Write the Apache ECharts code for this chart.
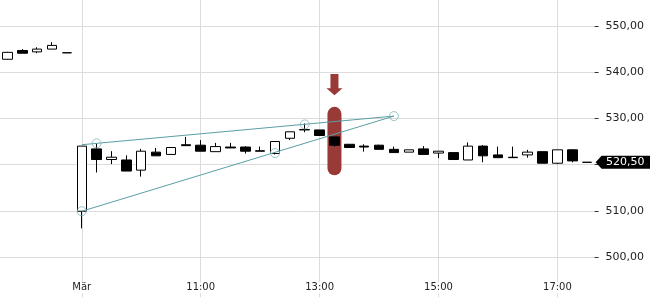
<!DOCTYPE html>
<html>
<head>
<meta charset="utf-8">
<script src="https://cdn.jsdelivr.net/npm/echarts@6/dist/echarts.min.js"></script>
<style>
html,body{margin:0;padding:0;background:#fff;}
#chart{width:650px;height:300px;}
</style>
</head>
<body>
<div id="chart"></div>
<script>
// categories (15-minute slots): previous day tail + trading day
const categories = [
  '28.2. 16:30','28.2. 16:45','28.2. 17:00','28.2. 17:15','28.2. 17:30',
  '09:00','09:15','09:30','09:45','10:00','10:15','10:30','10:45',
  '11:00','11:15','11:30','11:45','12:00','12:15','12:30','12:45',
  '13:00','13:15','13:30','13:45','14:00','14:15','14:30','14:45',
  '15:00','15:15','15:30','15:45','16:00','16:15','16:30','16:45',
  '17:00','17:15','17:30'
];
// OHLC as [open, close, low, high]
const opens  = [542.8,544.7,544.4,545.0,544.2,
  509.9,523.4,521.1,521.0,518.8,522.7,522.2,524.3,
  524.2,522.8,523.8,523.8,523.0,522.4,525.7,527.5,
  527.5,526.0,524.4,524.0,524.2,523.3,522.7,523.4,
  522.5,522.6,521.0,524.0,522.1,521.6,522.1,522.8,
  520.3,523.2,520.5];
const closes = [544.3,544.1,545.0,545.8,544.2,
  524.0,521.1,521.6,518.6,522.9,521.9,523.7,524.1,
  522.9,523.9,523.6,522.9,522.9,525.0,527.1,527.6,
  526.3,524.2,523.7,523.8,523.3,522.6,523.2,522.2,
  522.9,521.1,524.0,521.9,521.5,521.5,522.7,520.3,
  523.2,520.8,520.5];
const lows   = [542.7,544.1,544.1,545.0,544.2,
  506.2,518.3,520.1,518.6,517.4,521.9,522.2,524.1,
  522.9,522.8,523.6,522.4,522.9,522.2,525.3,527.0,
  526.3,523.9,523.7,522.8,523.3,522.6,522.7,522.2,
  521.4,521.1,521.0,520.5,521.5,521.5,521.5,520.3,
  520.1,520.5,520.5];
const highs  = [544.4,545.0,545.4,546.5,544.2,
  524.0,524.6,522.9,522.0,523.4,523.6,523.7,526.0,
  525.3,524.7,524.7,524.0,523.9,525.0,527.1,528.9,
  527.5,526.0,524.4,524.4,524.3,523.9,523.2,524.0,
  522.9,522.6,524.8,524.2,523.9,523.9,523.2,522.8,
  523.2,523.3,520.5];

// x tick labels
const tickCats  = ['09:00','11:00','13:00','15:00','17:00'];
const tickTexts = ['Mär','11:00','13:00','15:00','17:00'];
// y axis
const yMin = 490, yMax = 560, yStep = 10;

// trend lines
const upperLine = [['09:00',524.3],['14:15',530.5]];
const lowerLine = [['09:00',509.9],['14:15',530.5]];
// touch points (circles)
const touchPoints = [['09:00',509.9],['09:15',524.6],['12:15',522.5],['12:45',528.7],['14:15',530.5]];
// signal marker: [category, barTop, barBottom, arrowTop, arrowTip]
const signal = [['13:15',532.5,517.7,539.6,535.0]];

const lastPrice = closes[closes.length-1];
const lastCat = categories[categories.length-1];

const teal = '#5b9fa6';
const signalColor = '#983b38';
const FONT = 'DejaVu Sans';
const gridLineBottom = 491.3;

const chart = echarts.init(document.getElementById('chart'), null, {renderer:'canvas'});
const ohlc = opens.map((o,i)=>[o, closes[i], lows[i], highs[i]]);

chart.setOption({
  animation: false,
  backgroundColor: '#fff',
  grid: {left: 0, right: 55.4, top: -20.2, bottom: -3.2, containLabel: false, outerBoundsMode: 'none'},
  xAxis: {
    type: 'category',
    data: categories,
    boundaryGap: true,
    z: 10,
    axisLine: {show: false},
    axisTick: {show: false},
    splitLine: {show: false},
    axisLabel: {
      inside: true,
      margin: 10,
      interval: (idx, val) => tickCats.indexOf(val) >= 0,
      formatter: (val) => { const k = tickCats.indexOf(val); return k >= 0 ? tickTexts[k] : ''; },
      color: '#222',
      fontFamily: FONT,
      fontSize: 10,
      lineHeight: 11,
      backgroundColor: '#fff',
      padding: [0, 1, 0, 1]
    }
  },
  yAxis: {
    type: 'value',
    position: 'right',
    min: yMin, max: yMax, interval: yStep,
    axisLine: {show: false},
    axisTick: {show: true, length: 4, lineStyle: {color: '#333'}},
    splitLine: {show: true, lineStyle: {color: '#dcdcdc', width: 1}},
    axisLabel: {
      margin: 11,
      color: '#222',
      fontFamily: FONT,
      fontSize: 11,
      showMinLabel: false,
      showMaxLabel: false,
      formatter: (v) => v.toFixed(2).replace('.', ',')
    }
  },
  series: [
    {
      type: 'custom',
      name: 'signal',
      z: 1,
      clip: false,
      data: signal,
      renderItem: (params, api) => {
        const x = api.value(0);
        const pTop = api.coord([x, api.value(1)]);
        const pBot = api.coord([x, api.value(2)]);
        const aTop = api.coord([x, api.value(3)]);
        const aTip = api.coord([x, api.value(4)]);
        const w = 14, cx = pTop[0];
        const headH = 7, shaftW = 8, headW = 16;
        return {
          type: 'group',
          children: [
            {type: 'rect', shape: {x: cx - w/2, y: pTop[1], width: w, height: pBot[1]-pTop[1], r: w/2},
             style: {fill: signalColor}},
            {type: 'polygon', shape: {points: [
              [cx - shaftW/2, aTop[1]], [cx + shaftW/2, aTop[1]],
              [cx + shaftW/2, aTip[1]-headH], [cx + headW/2, aTip[1]-headH],
              [cx, aTip[1]], [cx - headW/2, aTip[1]-headH],
              [cx - shaftW/2, aTip[1]-headH]
            ]}, style: {fill: signalColor}}
          ]
        };
      }
    },
    {
      type: 'candlestick',
      name: 'Kurs',
      z: 2,
      barWidth: 10,
      data: ohlc,
      itemStyle: {color: '#ffffff', color0: '#000000', borderColor: '#000000', borderColor0: '#000000', borderWidth: 1},
      markLine: {
        silent: true,
        symbol: ['none','none'],
        label: {show: false},
        lineStyle: {color: '#dcdcdc', type: 'solid', width: 1},
        data: tickCats.map(c => [{coord: [c, yMax]}, {coord: [c, gridLineBottom]}]),
        z: 0
      }
    },
    {
      type: 'line', name: 'upper', z: 3, data: upperLine, symbol: 'none',
      lineStyle: {color: teal, width: 1}
    },
    {
      type: 'line', name: 'lower', z: 3, data: lowerLine, symbol: 'none',
      lineStyle: {color: teal, width: 1}
    },
    {
      type: 'scatter', name: 'touch', z: 4, data: touchPoints, symbol: 'circle', symbolSize: 9,
      itemStyle: {color: 'rgba(0,0,0,0)', borderColor: '#7fb7bd', borderWidth: 1}
    },
    {
      type: 'custom',
      name: 'lastPrice',
      z: 20,
      clip: false,
      data: [[lastCat, lastPrice]],
      renderItem: (params, api) => {
        const p = api.coord([api.value(0), api.value(1)]);
        const x0 = params.coordSys.x + params.coordSys.width;
        const y = p[1];
        const h = 6.5;
        return {
          type: 'group',
          children: [
            {type: 'polygon', shape: {points: [[x0+1, y], [x0+7, y-h], [650, y-h], [650, y+h], [x0+7, y+h]]},
             style: {fill: '#000'}},
            {type: 'text', style: {x: x0+11.5, y: y, text: api.value(1).toFixed(2).replace('.', ','),
              fill: '#fff', font: '11px "DejaVu Sans"', verticalAlign: 'middle', align: 'left'}}
          ]
        };
      }
    }
  ]
});
</script>
</body>
</html>
